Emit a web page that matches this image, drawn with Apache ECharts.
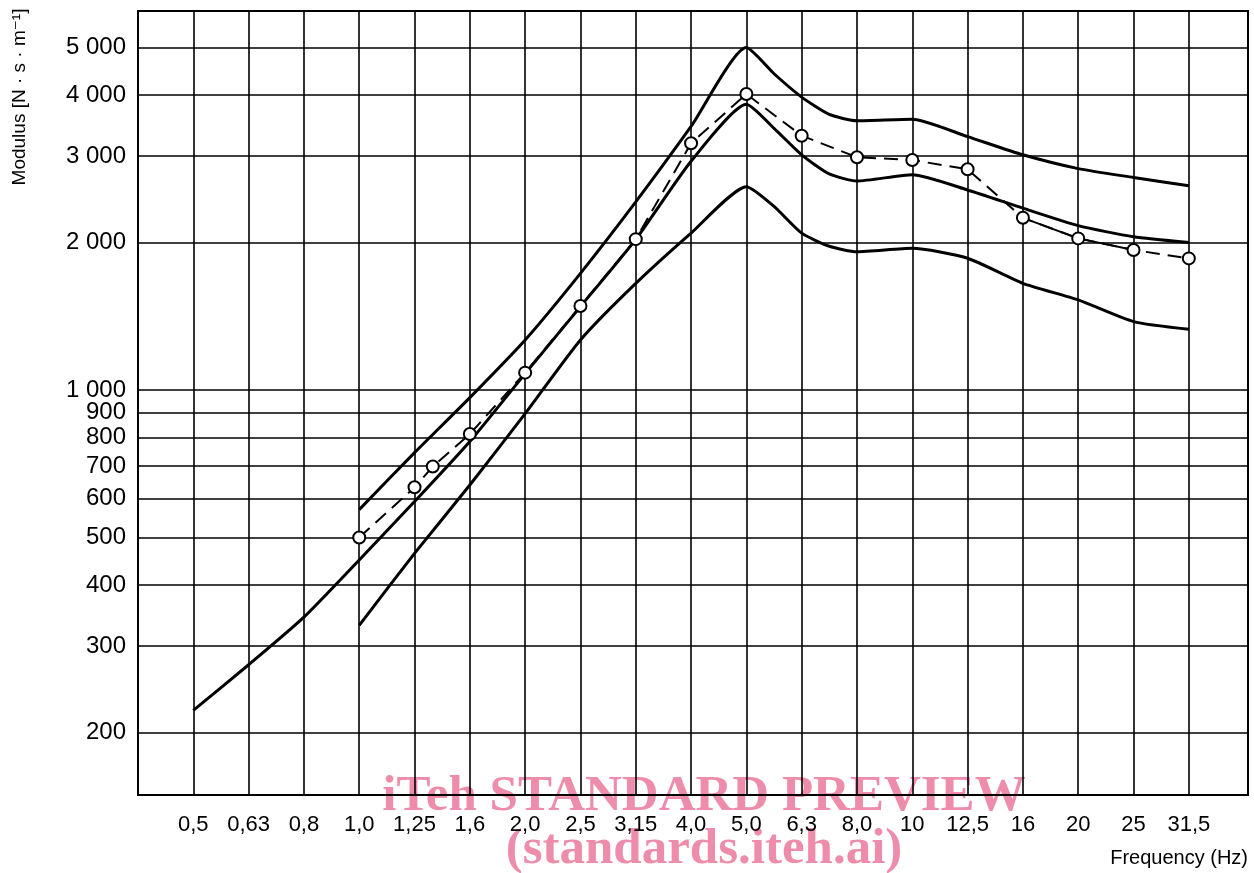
<!DOCTYPE html>
<html>
<head>
<meta charset="utf-8">
<script src="https://cdn.jsdelivr.net/npm/echarts@6/dist/echarts.min.js"></script>
<style>
  html, body { margin: 0; padding: 0; background: #fff; }
  #chart { width: 1254px; height: 873px; }
</style>
</head>
<body>
<div id="chart"></div>
<script>
// Frequency bands (Hz), one per category position 0..18
const freqLabels = ['0,5','0,63','0,8','1,0','1,25','1,6','2,0','2,5','3,15','4,0','5,0','6,3','8,0','10','12,5','16','20','25','31,5'];
const bandIndex = freqLabels.map((_, i) => i);

// Modulus tick values and labels (N·s·m⁻¹)
const yTickValues = [200, 300, 400, 500, 600, 700, 800, 900, 1000, 2000, 3000, 4000, 5000];
const yTickLabels = ['200', '300', '400', '500', '600', '700', '800', '900', '1 000', '2 000', '3 000', '4 000', '5 000'];

// Upper limit curve
const upperX = [3, 4, 5, 6, 7, 8, 9, 10, 10.5, 11, 11.5, 12, 13, 14, 15, 16, 17, 18];
const upperY = [570, 745, 965, 1265, 1730, 2420, 3450, 5000, 4420, 3960, 3650, 3545, 3570, 3290, 3020, 2830, 2715, 2610];

// Middle curve (starting at 0,5 Hz)
const middleX = [0, 1, 2, 3, 4, 5, 6, 7, 8, 9, 10, 10.5, 11, 11.5, 12, 13, 14, 15, 16, 17, 18];
const middleY = [222, 275, 344, 450, 592, 785, 1080, 1480, 2030, 2930, 3830, 3420, 3020, 2760, 2670, 2750, 2560, 2350, 2165, 2055, 2000];

// Lower limit curve
const lowerX = [3, 4, 5, 6, 7, 8, 9, 10, 10.5, 11, 11.5, 12, 13, 14, 15, 16, 17, 18];
const lowerY = [331, 464, 640, 895, 1265, 1650, 2090, 2600, 2370, 2090, 1965, 1915, 1946, 1857, 1651, 1527, 1379, 1330];

// Measured points (dashed line with circles)
const measX = [3, 4, 4.33, 5, 6, 7, 8, 9, 10, 11, 12, 13, 14, 15, 16, 17, 18];
const measY = [500, 633, 698, 813, 1085, 1484, 2032, 3188, 4018, 3304, 2986, 2947, 2821, 2246, 2039, 1931, 1856];

const zip = (xs, ys) => xs.map((x, i) => [x, ys[i]]);

const chart = echarts.init(document.getElementById('chart'), null, { renderer: 'canvas' });

const gridLine = { color: '#000', width: 1.6, type: 'solid' };
const markLineData = [
  ...yTickValues.map((v, i) => ({ yAxis: v, label: { show: true, position: 'start', formatter: yTickLabels[i] } })),
  ...bandIndex.map(i => ({ xAxis: i, label: { show: false } }))
];

const curveStyle = { color: '#000', width: 3 };
const sans = '"Liberation Sans", Arial, sans-serif';

const option = {
  backgroundColor: '#fff',
  animation: false,
  textStyle: { fontFamily: sans },
  grid: {
    left: 138, right: 6, top: 11, bottom: 78,
    show: true, borderColor: '#000', borderWidth: 2, backgroundColor: 'transparent'
  },
  xAxis: {
    type: 'value', min: -1, max: 19.07, interval: 1,
    axisLine: { show: false }, axisTick: { show: false }, splitLine: { show: false },
    axisLabel: {
      fontSize: 22, color: '#000', margin: 19, fontFamily: sans,
      formatter: v => (Number.isInteger(v) && freqLabels[v] !== undefined) ? freqLabels[v] : ''
    }
  },
  yAxis: {
    type: 'log', logBase: 10, min: 149.1, max: 5936,
    axisLine: { show: false }, axisTick: { show: false }, splitLine: { show: false },
    axisLabel: { show: false }
  },
  graphic: [
    {
      type: 'text', z: -10,
      style: { text: 'iTeh STANDARD PREVIEW', x: 0, y: 0, align: 'center', verticalAlign: 'middle',
        font: 'bold 51px "Liberation Serif", "Times New Roman", serif', fill: '#ee8dab' },
      position: [704, 797]
    },
    {
      type: 'text', z: -10,
      style: { text: '(standards.iteh.ai)', x: 0, y: 0, align: 'center', verticalAlign: 'middle',
        font: 'bold 51px "Liberation Serif", "Times New Roman", serif', fill: '#ee8dab' },
      position: [704, 850]
    },
    {
      type: 'text', z: 10,
      style: { text: 'Frequency (Hz)', x: 0, y: 0, align: 'right', verticalAlign: 'middle',
        font: '20px "Liberation Sans", Arial, sans-serif', fill: '#000' },
      position: [1248, 858]
    },
    {
      type: 'text', z: 10, rotation: Math.PI / 2,
      style: { text: 'Modulus [N · s · m⁻¹]', x: 0, y: 0, align: 'center', verticalAlign: 'middle',
        font: '19px "Liberation Sans", "DejaVu Sans", Arial, sans-serif', fill: '#000' },
      position: [20, 97]
    }
  ],
  series: [
    {
      name: 'grid', type: 'line', data: [], z: 1, silent: true,
      markLine: {
        silent: true, symbol: ['none', 'none'], animation: false,
        lineStyle: gridLine,
        label: { fontSize: 24, color: '#000', distance: 12, fontFamily: sans },
        emphasis: { disabled: true },
        data: markLineData
      }
    },
    {
      name: 'upper', type: 'line', data: zip(upperX, upperY), smooth: 0.2, showSymbol: false,
      lineStyle: curveStyle, z: 3, silent: true
    },
    {
      name: 'middle', type: 'line', data: zip(middleX, middleY), smooth: 0.2, showSymbol: false,
      lineStyle: curveStyle, z: 3, silent: true
    },
    {
      name: 'lower', type: 'line', data: zip(lowerX, lowerY), smooth: 0.2, showSymbol: false,
      lineStyle: curveStyle, z: 3, silent: true
    },
    {
      name: 'measured-solid', type: 'line', data: zip(measX, measY).slice(13, 16), showSymbol: false,
      lineStyle: { color: '#000', width: 2 }, z: 4, silent: true
    },
    {
      name: 'measured', type: 'line', data: zip(measX, measY),
      symbol: 'circle', symbolSize: 12, showSymbol: true,
      itemStyle: { color: '#fff', borderColor: '#000', borderWidth: 2 },
      lineStyle: { color: '#000', width: 2, type: [14, 8] }, z: 5, silent: true
    }
  ]
};

chart.setOption(option);
</script>
</body>
</html>
